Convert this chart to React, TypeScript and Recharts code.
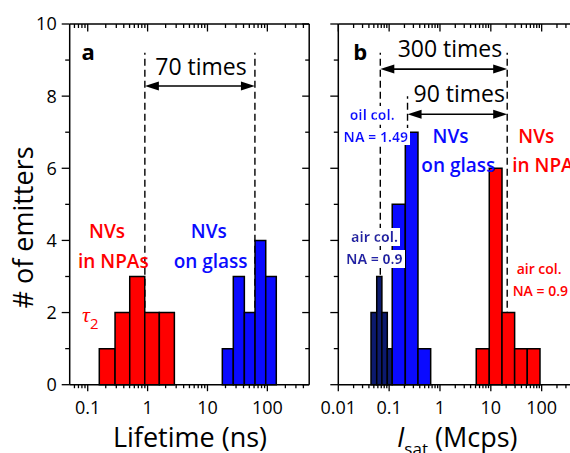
import React from "react"
import { ComposedChart, XAxis, YAxis, Scatter, ReferenceArea, ReferenceLine, ReferenceDot } from "recharts"

// panel a: fluorescence lifetime histograms (bin edges in ns, counts per bin)
const tauNpaEdges = [0.156, 0.286, 0.503, 0.896, 1.57, 2.8]
const tauNpaCounts = [1, 2, 3, 2, 2]
const tauGlassEdges = [17.7, 27, 41.3, 62.3, 94, 141]
const tauGlassCounts = [1, 3, 2, 4, 3]

// panel b: saturation intensity histograms (bin edges in Mcps)
const isatAirEdges = [0.044, 0.057, 0.072, 0.092, 0.115]
const isatAirCounts = [2, 3, 2, 1]
const isatOilEdges = [0.115, 0.208, 0.369, 0.656]
const isatOilCounts = [5, 7, 1]
const isatNpaEdges = [5.17, 9.32, 16.6, 29.4, 52.1, 92.7]
const isatNpaCounts = [1, 6, 2, 1, 1]

// guide lines (median values) and arrows
const tauMarks = [0.9, 62]
const isatMarks = [0.067, 0.23, 21]

const tauDomain = [0.05, 500]
const isatDomain = [0.01, 500]
const tauMajor = [0.1, 1, 10, 100]
const isatMajor = [0.01, 0.1, 1, 10, 100]
const countTicks = [0, 1, 2, 3, 4, 5, 6, 7, 8, 9, 10]

const BLACK = "#000"
const RED = "#ff0000"
const BLUE = "#0a0aff"
const NAVY = "#0c1a6e"
const AIRBLUE = "#2424a8"
const FONT = '"Open Sans", "Noto Sans", sans-serif'
const SERIF = '"Liberation Serif", "DejaVu Serif", serif'

function withMinors(domain: number[], majors: number[]) {
  const out = [...majors]
  for (const m of [majors[0] / 10, ...majors]) {
    for (let k = 2; k < 10; k++) {
      const v = Number((m * k).toPrecision(3))
      if (v > domain[0] && v < domain[1]) out.push(v)
    }
  }
  return out.sort((a, b) => a - b)
}

const bins = (edges: number[], counts: number[]) =>
  counts.map((c, i) => ({ x1: edges[i], x2: edges[i + 1], c }))

// bin centres, used only so the chart has a series to scale against
const centres = (edges: number[], counts: number[]) =>
  bins(edges, counts).map((b) => ({ x: Math.sqrt(b.x1 * b.x2), y: b.c }))

const xTick = (majors: number[], label: boolean, inward: boolean) => (p: any) => {
  const v = p.payload.value
  const major = majors.includes(v)
  const len = major ? (inward ? 7.5 : 6.5) : inward ? 4 : 3.5
  return (
    <g>
      <line x1={p.x} x2={p.x} y1={p.y} y2={p.y + len} stroke={BLACK} strokeWidth={1.3} />
      {label && major && (
        <text x={p.x} y={p.y + 29} textAnchor="middle" fontSize={18} fontFamily={FONT} fill={BLACK}>
          {String(v)}
        </text>
      )}
    </g>
  )
}

const yTick = (label: boolean, inward: boolean) => (p: any) => {
  const v = p.payload.value
  const major = v % 2 === 0
  const len = major ? (inward ? 7 : 8) : inward ? 4 : 4.5
  return (
    <g>
      <line x1={p.x - len} x2={p.x} y1={p.y} y2={p.y} stroke={BLACK} strokeWidth={1.3} />
      {label && major && (
        <text x={p.x - 13} y={p.y} dy="0.36em" textAnchor="end" fontSize={18} fontFamily={FONT} fill={BLACK}>
          {v}
        </text>
      )}
    </g>
  )
}

function frame(domain: number[], majors: number[], yLabels: boolean) {
  const ticks = withMinors(domain, majors)
  const axisLine = { stroke: BLACK, strokeWidth: 1.5 }
  const common = { type: "number" as const, scale: "log" as const, domain, allowDataOverflow: true, ticks, interval: 0 as const, tickSize: 0, tickMargin: 0, axisLine, height: 1, dataKey: "x" }
  return [
    <XAxis key="xb" {...common} tick={xTick(majors, true, false)} />,
    <XAxis key="xt" xAxisId="t" orientation="top" {...common} tick={xTick(majors, false, true)} />,
    <YAxis key="yl" dataKey="y" type="number" domain={[0, 10]} allowDataOverflow ticks={countTicks} interval={0} width={1} tickSize={0} tickMargin={0} axisLine={axisLine} tick={yTick(yLabels, false)} />,
    <YAxis key="yr" yAxisId="r" dataKey="y" orientation="right" type="number" domain={[0, 10]} allowDataOverflow ticks={countTicks} interval={0} width={1} tickSize={0} tickMargin={0} axisLine={axisLine} tick={yTick(false, true)} />,
  ]
}

function histogram(key: string, edges: number[], counts: number[], fill: string) {
  return bins(edges, counts).map((b, i) => (
    <ReferenceArea key={`${key}${i}`} x1={b.x1} x2={b.x2} y1={0} y2={b.c} fill={fill} fillOpacity={1} stroke={BLACK} strokeWidth={1.5} zIndex={300} />
  ))
}

function guide(key: string, x: number, top: number) {
  return (
    <ReferenceLine key={key} segment={[{ x, y: 0 }, { x, y: top }]} stroke={BLACK} strokeWidth={1.4} strokeDasharray="7 4" zIndex={50} />
  )
}

function arrow(key: string, from: number, to: number, y: number) {
  return (
    <ReferenceLine
      key={key}
      segment={[{ x: from, y }, { x: to, y }]}
      zIndex={450}
      shape={(p: any) => (
        <g>
          <line x1={p.x1 + 10} x2={p.x2 - 10} y1={p.y1} y2={p.y2} stroke={BLACK} strokeWidth={1.6} />
          <polygon points={`${p.x1},${p.y1} ${p.x1 + 14},${p.y1 - 4.5} ${p.x1 + 14},${p.y1 + 4.5}`} fill={BLACK} />
          <polygon points={`${p.x2},${p.y2} ${p.x2 - 14},${p.y2 - 4.5} ${p.x2 - 14},${p.y2 + 4.5}`} fill={BLACK} />
        </g>
      )}
    />
  )
}

type Note = { x: number; y: number; text: string; color: string; size: number; weight?: number; anchor?: string; bg?: boolean; sub?: string }

function notes(prefix: string, list: Note[]) {
  return list.map((n, i) => (
    <ReferenceDot
      key={`${prefix}${i}`}
      x={n.x}
      y={n.y}
      r={0}
      zIndex={500}
      shape={(p: any) => (
        <g>
          {n.bg && (
            <defs>
              <filter id={`${prefix}bg${i}`} x="-0.03" y="0.08" width="1.06" height="0.88">
                <feFlood floodColor="#fff" />
                <feComposite in="SourceGraphic" operator="over" />
              </filter>
            </defs>
          )}
          <text
            x={p.cx}
            y={p.cy}
            textAnchor={n.anchor ?? "middle"}
            fontSize={n.size}
            fontWeight={n.weight ?? 400}
            fontFamily={FONT}
            fill={n.color}
            filter={n.bg ? `url(#${prefix}bg${i})` : undefined}
          >
            {n.sub ? (
              <>
                <tspan fontFamily={SERIF} fontStyle="italic">{n.text}</tspan>
                <tspan fontSize={n.size * 0.68} dy={7}>{n.sub}</tspan>
              </>
            ) : (
              n.text
            )}
          </text>
        </g>
      )}
    />
  ))
}

const notesA: Note[] = [
  { x: 0.079, y: 8.99, text: "a", color: BLACK, size: 22, weight: 700, anchor: "start" },
  { x: 7.8, y: 8.59, text: "70 times", color: BLACK, size: 23 },
  { x: 0.21, y: 4.06, text: "NVs", color: RED, size: 19, weight: 600 },
  { x: 0.268, y: 3.23, text: "in NPAs", color: RED, size: 19, weight: 600 },
  { x: 10.5, y: 4.06, text: "NVs", color: BLUE, size: 19, weight: 600 },
  { x: 11.3, y: 3.23, text: "on glass", color: BLUE, size: 19, weight: 600 },
  { x: 0.0805, y: 1.74, text: "τ", sub: "2", color: RED, size: 22, anchor: "start" },
]

const notesB: Note[] = [
  { x: 0.0197, y: 8.99, text: "b", color: BLACK, size: 22, weight: 700, anchor: "start" },
  { x: 1.57, y: 9.09, text: "300 times", color: BLACK, size: 23 },
  { x: 2.39, y: 7.84, text: "90 times", color: BLACK, size: 23 },
  { x: 0.0464, y: 7.34, text: "oil col.", color: BLUE, size: 14, weight: 700, bg: true },
  { x: 0.0546, y: 6.74, text: "NA = 1.49", color: BLUE, size: 14, weight: 700, bg: true },
  { x: 0.0515, y: 3.96, text: "air col.", color: AIRBLUE, size: 14, weight: 700, bg: true },
  { x: 0.0509, y: 3.34, text: "NA = 0.9", color: AIRBLUE, size: 14, weight: 700, bg: true },
  { x: 1.61, y: 6.71, text: "NVs", color: BLUE, size: 19, weight: 600 },
  { x: 2.29, y: 5.9, text: "on glass", color: BLUE, size: 19, weight: 600 },
  { x: 34.7, y: 6.71, text: "NVs", color: RED, size: 19, weight: 600, anchor: "start" },
  { x: 26.4, y: 5.9, text: "in NPAs", color: RED, size: 19, weight: 600, anchor: "start" },
  { x: 32.2, y: 3.07, text: "air col.", color: RED, size: 14, weight: 600, anchor: "start" },
  { x: 26.9, y: 2.45, text: "NA = 0.9", color: RED, size: 14, weight: 600, anchor: "start" },
]

const tauCentres = [...centres(tauNpaEdges, tauNpaCounts), ...centres(tauGlassEdges, tauGlassCounts)]
const isatCentres = [
  ...centres(isatAirEdges, isatAirCounts),
  ...centres(isatOilEdges, isatOilCounts),
  ...centres(isatNpaEdges, isatNpaCounts),
]

export default function App() {
  return (
    <div style={{ position: "absolute", left: 0, top: 0, width: 570, height: 453, overflow: "hidden", background: "#fff", fontFamily: FONT }}>
      <div style={{ position: "absolute", left: 0, top: 0 }}>
        <ComposedChart width={320} height={453} margin={{ top: 23, right: 9.8, bottom: 67.3, left: 68.7 }}>
          {frame(tauDomain, tauMajor, true)}
          <Scatter data={tauCentres} dataKey="y" fillOpacity={0} strokeOpacity={0} isAnimationActive={false} legendType="none" />
          {tauMarks.map((x, i) => guide(`ga${i}`, x, 9.2))}
          {histogram("an", tauNpaEdges, tauNpaCounts, RED)}
          {histogram("ag", tauGlassEdges, tauGlassCounts, BLUE)}
          {arrow("aa", tauMarks[0], tauMarks[1], 8.28)}
          {notes("na", notesA)}
        </ComposedChart>
      </div>
      <div style={{ position: "absolute", left: 300, top: 0 }}>
        <ComposedChart width={290} height={453} margin={{ top: 23, right: 11.8, bottom: 67.3, left: 37.3 }}>
          {frame(isatDomain, isatMajor, false)}
          <Scatter data={isatCentres} dataKey="y" fillOpacity={0} strokeOpacity={0} isAnimationActive={false} legendType="none" />
          {guide("gb0", isatMarks[0], 9.2)}
          {guide("gb1", isatMarks[1], 8)}
          {guide("gb2", isatMarks[2], 9.2)}
          {histogram("ba", isatAirEdges, isatAirCounts, NAVY)}
          {histogram("bo", isatOilEdges, isatOilCounts, BLUE)}
          {histogram("bn", isatNpaEdges, isatNpaCounts, RED)}
          {arrow("b300", isatMarks[0], isatMarks[2], 8.75)}
          {arrow("b90", isatMarks[1], isatMarks[2], 7.5)}
          {notes("nb", notesB)}
        </ComposedChart>
      </div>
      <svg width={570} height={453} style={{ position: "absolute", left: 0, top: 0, pointerEvents: "none" }}>
        <text x={33} y={227.5} transform="rotate(-90 33 227.5)" textAnchor="middle" fontSize={27} fontFamily={FONT} fill={BLACK}>
          # of emitters
        </text>
        <text x={190} y={447} textAnchor="middle" fontSize={27} fontFamily={FONT} fill={BLACK}>
          Lifetime (ns)
        </text>
        <text x={397} y={447} fontSize={27} fontFamily={FONT} fill={BLACK}>
          <tspan fontStyle="italic">I</tspan>
          <tspan fontSize={17} dy={8}>sat</tspan>
          <tspan dy={-8}> (Mcps)</tspan>
        </text>
      </svg>
    </div>
  )
}
